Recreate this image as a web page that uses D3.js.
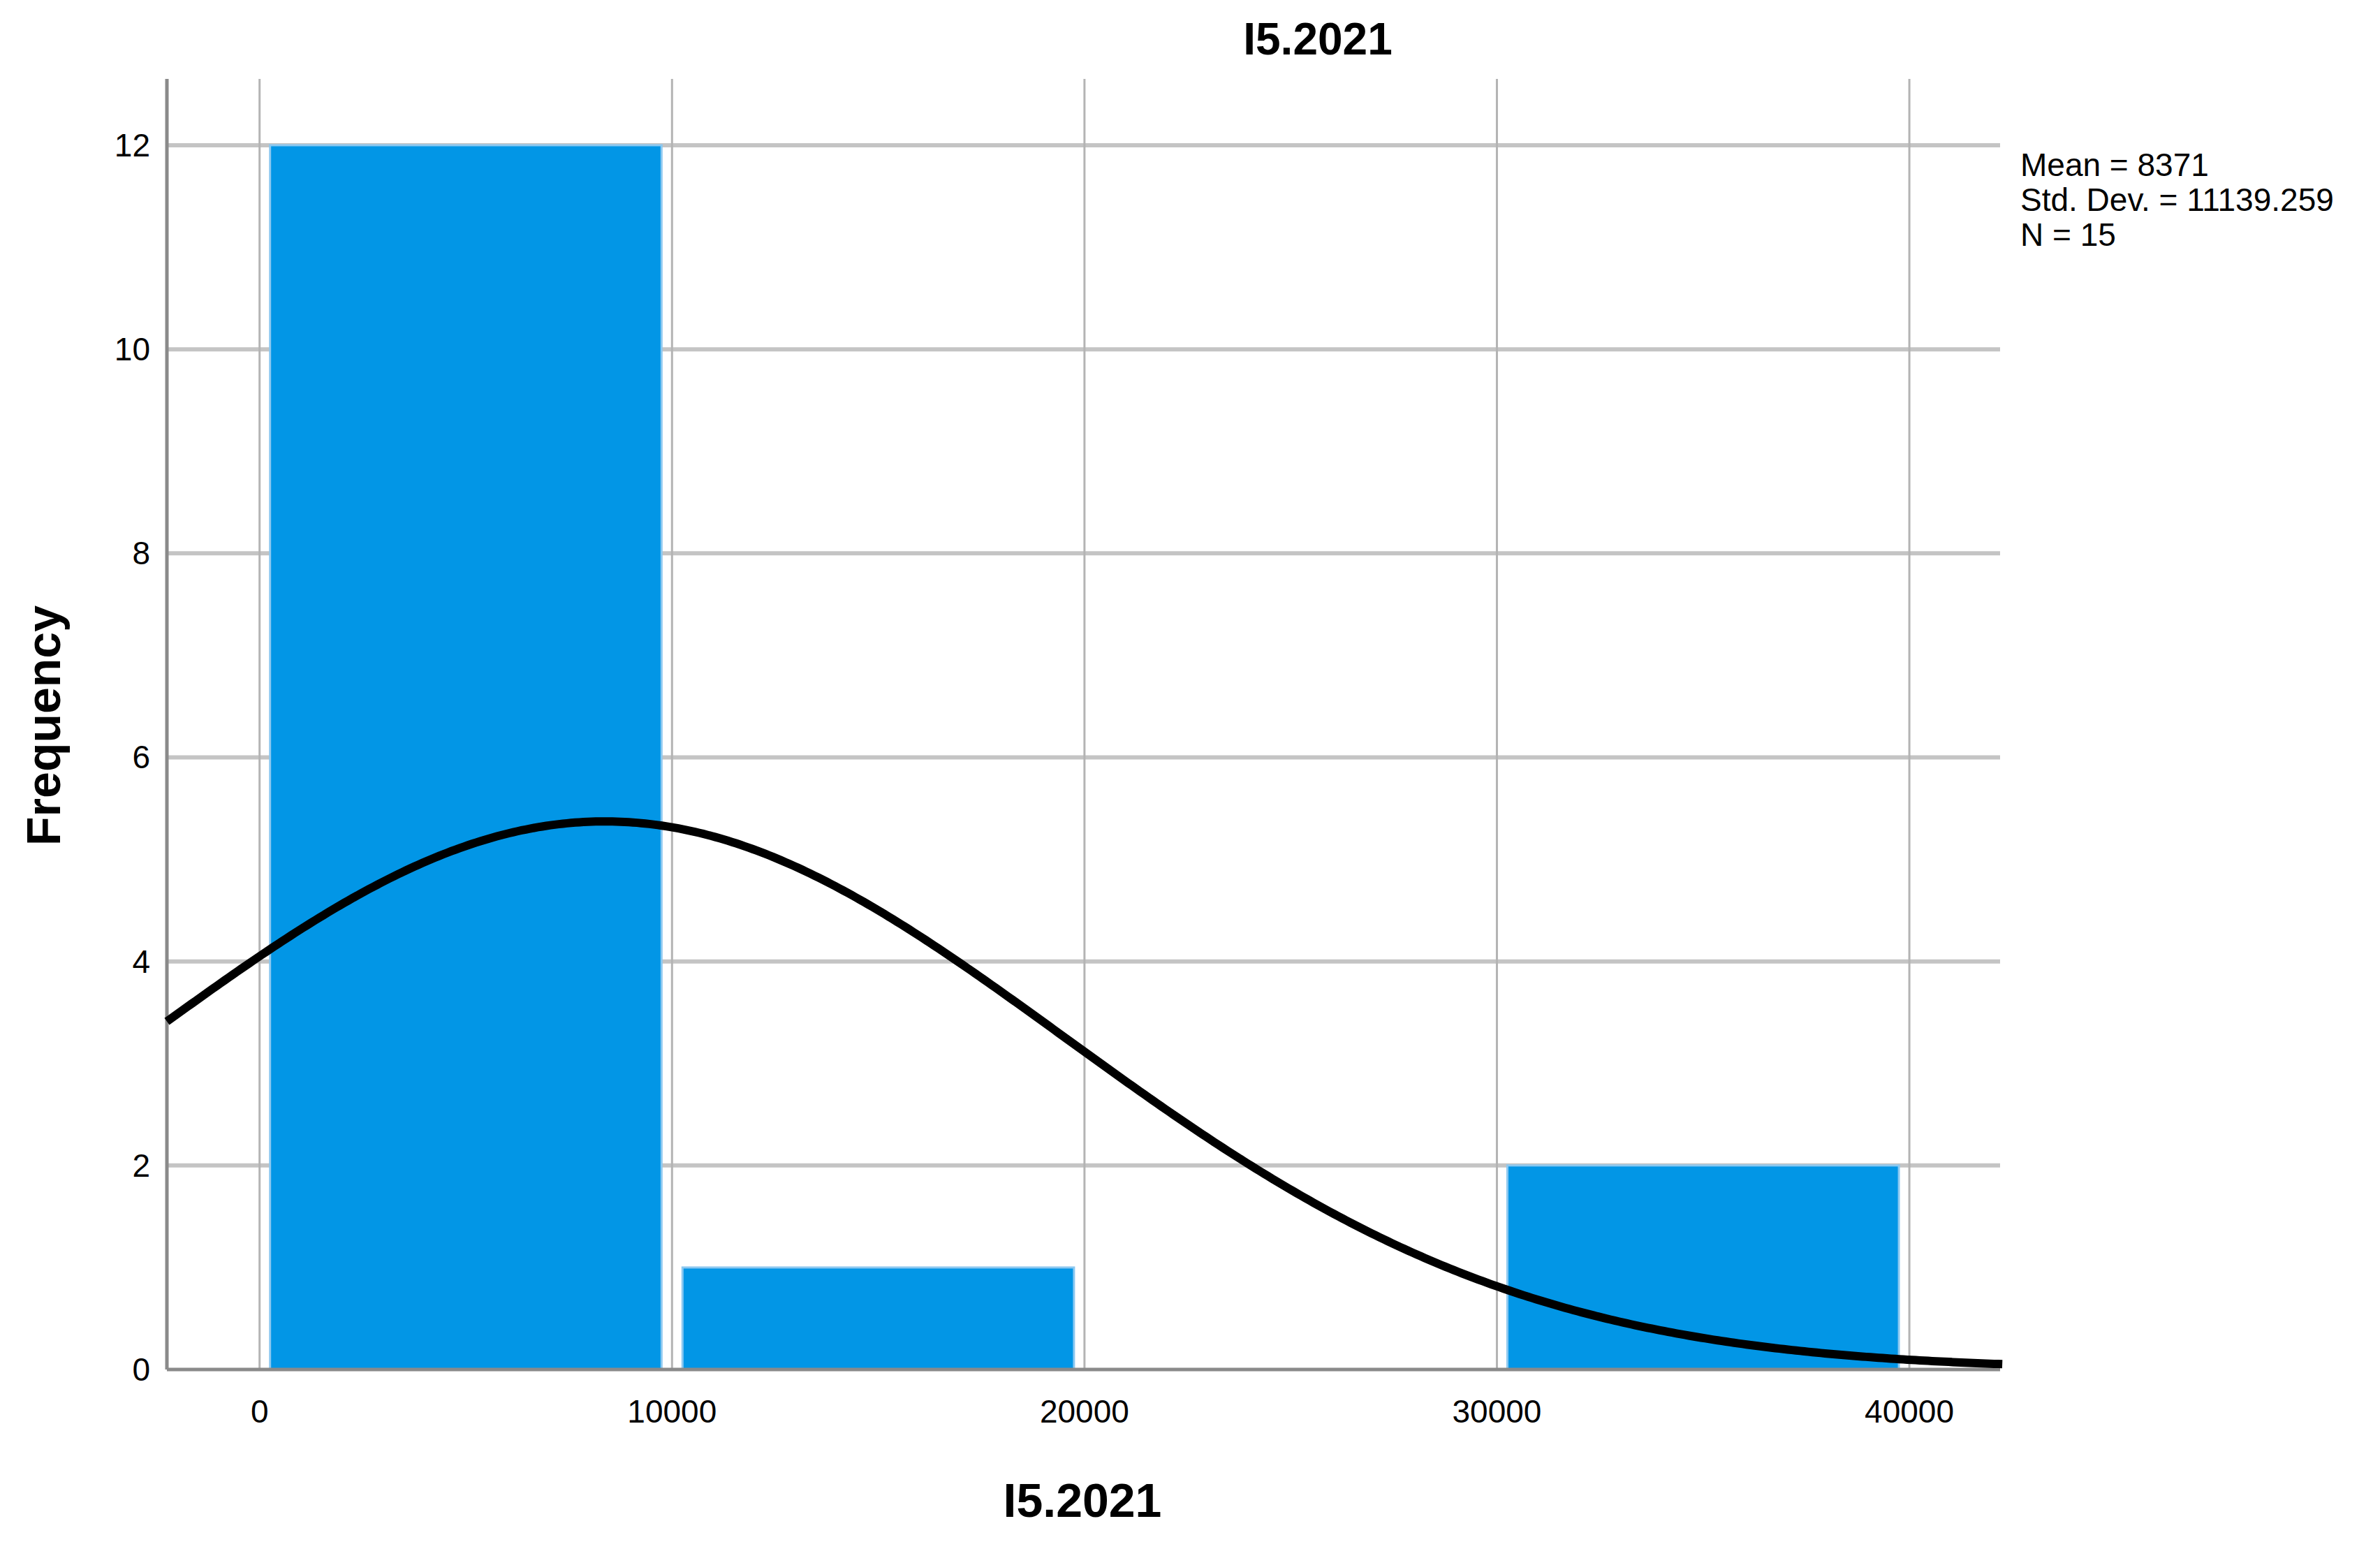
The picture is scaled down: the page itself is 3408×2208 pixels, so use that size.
<!DOCTYPE html>
<html>
<head>
<meta charset="utf-8">
<script src="https://cdn.jsdelivr.net/npm/d3@7"></script>
<style>
  body { margin: 0; background: #fff; }
  text { font-family: Arial, "Liberation Sans", sans-serif; fill: #000; }
</style>
</head>
<body>
<svg id="chart" width="3408" height="2208"></svg>
<script>
// histogram bins (lower edge, upper edge) and counts
var binStarts = [0, 10000, 20000, 30000];
var binEnds = [10000, 20000, 30000, 40000];
var counts = [12, 1, 0, 2];
var xTicks = [0, 10000, 20000, 30000, 40000];
var yTicks = [0, 2, 4, 6, 8, 10, 12];
var statLines = ["Mean = 8371", "Std. Dev. = 11139.259", "N = 15"];
var mean = 8371, sd = 11139.259, n = 15, binWidth = 10000;

(function() {
  var svg = d3.select("#chart");
  var pLeft = 239, pRight = 2864, pTop = 113, pBottom = 1961;

  var x = d3.scaleLinear().domain([-2247, 42200]).range([pLeft, pRight]);
  var y = d3.scaleLinear().domain([0, 12.65]).range([pBottom, pTop]);

  // grid
  svg.selectAll(".hg").data(yTicks.slice(1)).enter().append("line")
    .attr("x1", pLeft).attr("x2", pRight)
    .attr("y1", function(d) { return y(d); }).attr("y2", function(d) { return y(d); })
    .attr("stroke", "#c4c4c4").attr("stroke-width", 6);
  svg.selectAll(".vg").data(xTicks).enter().append("line")
    .attr("x1", function(d) { return x(d); }).attr("x2", function(d) { return x(d); })
    .attr("y1", pTop).attr("y2", pBottom)
    .attr("stroke", "#b4b4b4").attr("stroke-width", 3);

  // bars
  var inset = 15;
  var bins = counts.map(function(c, i) { return { x0: binStarts[i], x1: binEnds[i], count: c }; })
    .filter(function(b) { return b.count > 0; });
  svg.selectAll(".bar").data(bins).enter().append("rect")
    .attr("x", function(d) { return x(d.x0) + inset; })
    .attr("width", function(d) { return x(d.x1) - x(d.x0) - 2 * inset; })
    .attr("y", function(d) { return y(d.count); })
    .attr("height", function(d) { return pBottom - y(d.count); })
    .attr("fill", "#0296e6").attr("stroke", "#8cc8f0").attr("stroke-width", 3);

  // frame
  svg.append("line").attr("x1", pLeft).attr("x2", pLeft).attr("y1", pTop).attr("y2", pBottom)
    .attr("stroke", "#8a8a8a").attr("stroke-width", 5);
  svg.append("line").attr("x1", pLeft).attr("x2", pRight).attr("y1", pBottom).attr("y2", pBottom)
    .attr("stroke", "#8a8a8a").attr("stroke-width", 5);

  // normal curve from the displayed mean / sd / N
  var xs = d3.range(-2247, 42300, 100);
  var curve = d3.line()
    .x(function(d) { return x(d); })
    .y(function(d) { return y(n * binWidth * Math.exp(-0.5 * Math.pow((d - mean) / sd, 2)) / (sd * Math.sqrt(2 * Math.PI))); });
  svg.append("path").datum(xs).attr("d", curve)
    .attr("fill", "none").attr("stroke", "#000").attr("stroke-width", 12);

  // tick labels
  svg.selectAll(".xl").data(xTicks).enter().append("text")
    .attr("x", function(d) { return x(d); }).attr("y", pBottom + 76)
    .attr("text-anchor", "middle").attr("font-size", 46).text(function(d) { return d; });
  svg.selectAll(".yl").data(yTicks).enter().append("text")
    .attr("x", pLeft - 24).attr("y", function(d) { return y(d) + 16; })
    .attr("text-anchor", "end").attr("font-size", 46).text(function(d) { return d; });

  // titles
  svg.append("text").attr("x", 1887).attr("y", 78).attr("text-anchor", "middle")
    .attr("font-size", 64).attr("font-weight", "bold").text("I5.2021");
  svg.append("text").attr("x", 1550).attr("y", 2172).attr("text-anchor", "middle")
    .attr("font-size", 68).attr("font-weight", "bold").text("I5.2021");
  svg.append("text").attr("transform", "translate(86,1039) rotate(-90)").attr("text-anchor", "middle")
    .attr("font-size", 68).attr("font-weight", "bold").text("Frequency");

  // stats box
  svg.selectAll(".st").data(statLines).enter().append("text")
    .attr("x", 2893).attr("y", function(d, i) { return 252 + i * 50; })
    .attr("font-size", 46).text(function(d) { return d; });
})();
</script>
</body>
</html>
